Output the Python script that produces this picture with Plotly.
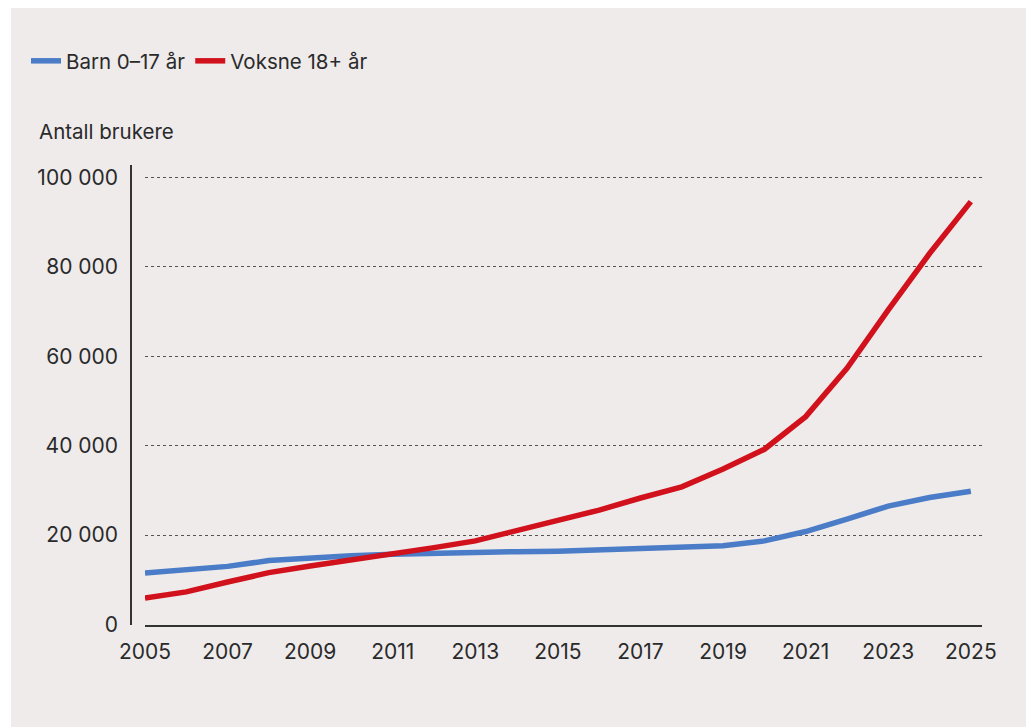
import plotly.graph_objects as go

years = list(range(2005, 2026))
barn = [11500, 12200, 13000, 14300, 15000, 15400, 15700, 16000, 16000, 16300, 16400,
        16700, 17000, 17300, 17600, 18700, 20800, 23600, 26500, 28400, 29800]
voksne = [5900, 7300, 9500, 11600, 13100, 14400, 15700, 17200, 18700, 21000, 23200,
          25600, 28300, 30800, 34800, 39200, 46500, 57300, 70400, 83000, 94600]
series_names = ["Barn 0–17 år", "Voksne 18+ år"]
y_title = "Antall brukere"
x_ticks = list(range(2005, 2026, 2))
y_ticks = [0, 20000, 40000, 60000, 80000, 100000]

W, H = 1026, 727
BG = "#eeebea"
TXT = "#2a2a2a"
FONT = "Inter"

def px(x):
    return x / W

def py(y):
    return (H - y) / H

fig = go.Figure()
fig.add_trace(go.Scatter(x=years, y=barn, mode="lines", name=series_names[0],
                         line=dict(color="#4a7cc8", width=5.5)))
fig.add_trace(go.Scatter(x=years, y=voksne, mode="lines", name=series_names[1],
                         line=dict(color="#d1121c", width=5.5)))

fig.update_layout(
    width=W, height=H,
    margin=dict(l=0, r=0, t=0, b=0),
    paper_bgcolor="white",
    plot_bgcolor="rgba(0,0,0,0)",
    separators=", ",
    font=dict(family=FONT, size=21, color=TXT),
    showlegend=True,
    legend=dict(orientation="h", x=px(26), y=py(61), xanchor="left", yanchor="middle",
                bgcolor="rgba(0,0,0,0)", font=dict(size=20.5, color=TXT),
                itemwidth=30, tracegroupgap=0),
    xaxis=dict(domain=[px(145), px(982)], range=[2005, 2025.27],
               tickvals=x_ticks, ticktext=[str(v) for v in x_ticks],
               showgrid=False, zeroline=False, showline=True, linecolor="#333333", linewidth=1.5,
               ticks="", ticklabelstandoff=8, automargin=False,
               tickfont=dict(size=21, color=TXT)),
    yaxis=dict(domain=[py(624.5), py(165)], range=[0, 102800], anchor="free", position=px(131),
               tickvals=y_ticks, tickformat=",d",
               showgrid=True, gridcolor="#555555", gridwidth=1, griddash="dot",
               zeroline=False, showline=True, linecolor="#333333", linewidth=1.5,
               ticks="", ticklabelstandoff=8, automargin=False,
               tickfont=dict(size=21, color=TXT)),
    shapes=[dict(type="rect", xref="paper", yref="paper", x0=px(11), x1=1.0, y0=0, y1=py(8),
                 fillcolor=BG, line=dict(width=0), layer="below")],
    annotations=[dict(text=y_title, xref="paper", yref="paper", x=px(37), y=py(131),
                      xanchor="left", yanchor="middle", showarrow=False,
                      font=dict(size=20.5, color=TXT))],
)

fig.write_html("out.html")
